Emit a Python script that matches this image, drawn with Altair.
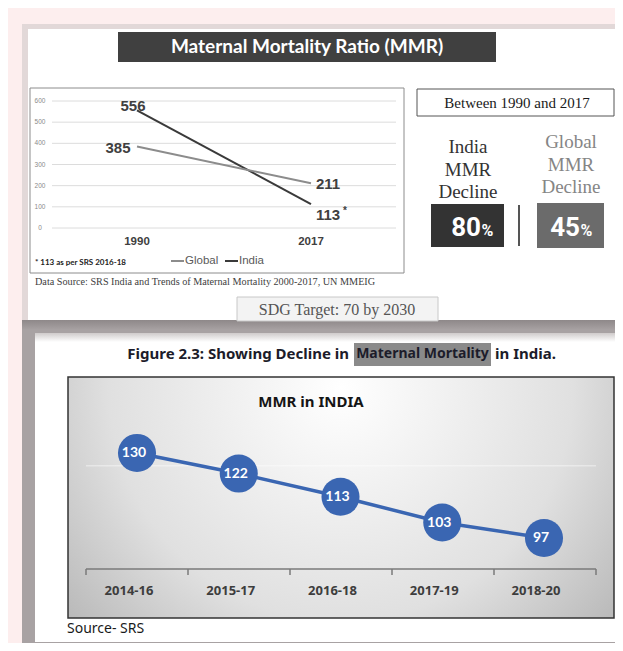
import altair as alt
import pandas as pd

# ---------------- data ----------------
years = ["1990", "2017"]
india_mmr = [556, 113]
global_mmr = [385, 211]
top_ticks = [0, 100, 200, 300, 400, 500, 600]
decline_region = ["India", "Global"]
decline_pct = [80, 45]
periods = ["2014-16", "2015-17", "2016-18", "2017-19", "2018-20"]
india_srs = [130, 122, 113, 103, 97]
bottom_grid = [125]

O = 8  # page margin offset
ONE = pd.DataFrame({"k": [0]})

SERIF = "Liberation Serif"
ARIAL = "Liberation Sans"
CAL = "Lato"
TAH = "Noto Sans"
NARROW = "Roboto"


def box(x1, y1, x2, y2, **kw):
    return alt.Chart(ONE).mark_rect(**kw).encode(
        x=alt.value(x1 - O), x2=alt.value(x2 - O),
        y=alt.value(y1 - O), y2=alt.value(y2 - O))


def hline(x1, x2, y, **kw):
    return alt.Chart(ONE).mark_rule(**kw).encode(
        x=alt.value(x1 - O), x2=alt.value(x2 - O), y=alt.value(y - O))


def vline(x, y1, y2, **kw):
    return alt.Chart(ONE).mark_rule(**kw).encode(
        x=alt.value(x - O), y=alt.value(y1 - O), y2=alt.value(y2 - O))


def label(s, x, y, **kw):
    return alt.Chart(pd.DataFrame({"t": [s]})).mark_text(**kw).encode(
        x=alt.value(x - O), y=alt.value(y - O), text="t:N")


layers = []

# ---------------- backgrounds ----------------
layers.append(box(0, 0, 640, 660, fill="#fdeeee"))
layers.append(box(22, 24, 640, 321, fill="#e2d8d8"))
layers.append(box(28, 29, 640, 321, fill="#ffffff"))
layers.append(box(22, 320, 640, 647, fill="#a8a2a3"))
layers.append(box(22, 320, 640, 330, fill=alt.LinearGradient(
    gradient="linear", x1=0, y1=0, x2=0, y2=1,
    stops=[alt.GradientStop(offset=0, color="#8e8889"),
           alt.GradientStop(offset=1, color="#a8a2a3")])))
layers.append(box(35, 334, 640, 642, fill="#ffffff"))
layers.append(box(35, 333, 640, 342, fill=alt.LinearGradient(
    gradient="linear", x1=0, y1=0, x2=0, y2=1,
    stops=[alt.GradientStop(offset=0, color="#cfcbcb"),
           alt.GradientStop(offset=1, color="#ffffff")])))

# ---------------- top panel ----------------
layers.append(box(118, 32, 496, 62, fill="#404040"))
layers.append(label("Maternal Mortality Ratio (MMR)", 307, 47, font=CAL, fontSize=19,
                    fontWeight="bold", color="#ffffff", align="center", baseline="middle"))
layers.append(box(30, 88, 404, 273, fill="#ffffff", stroke="#8c8c8c", strokeWidth=1))

xs_top = alt.Scale(type="point", domain=years, range=[137 - O, 311 - O], padding=0)
ys_top = alt.Scale(domain=[0, 600], range=[228 - O, 101 - O], nice=False, zero=False)

tick_df = pd.DataFrame({"v": top_ticks})
layers.append(alt.Chart(tick_df).mark_rule(color="#dcdcdc", strokeWidth=1).encode(
    y=alt.Y("v:Q", scale=ys_top, axis=None),
    x=alt.value(52 - O), x2=alt.value(396 - O)))
layers.append(alt.Chart(tick_df).mark_text(font=ARIAL, fontSize=6.5, color="#8a8a8a",
                                           align="center", baseline="middle").encode(
    y=alt.Y("v:Q", scale=ys_top, axis=None),
    x=alt.value(40 - O), text="v:Q"))

top_df = pd.DataFrame({
    "year": years * 2,
    "series": ["India"] * len(years) + ["Global"] * len(years),
    "mmr": india_mmr + global_mmr,
})

layers.append(alt.Chart(top_df).mark_line(strokeWidth=2).encode(
    x=alt.X("year:O", scale=xs_top, axis=None),
    y=alt.Y("mmr:Q", scale=ys_top, axis=None),
    color=alt.Color("series:N", scale=alt.Scale(domain=["Global", "India"],
                                                range=["#8c8c8c", "#3a3a3a"]), legend=None)))


def top_lab(series, year, dx, dy):
    return alt.Chart(top_df).transform_filter(
        f"datum.series == '{series}' && datum.year == '{year}'"
    ).mark_text(font=ARIAL, fontSize=15, fontWeight="bold", color="#404040",
                align="center", baseline="middle", dx=dx, dy=dy).encode(
        x=alt.X("year:O", scale=xs_top, axis=None),
        y=alt.Y("mmr:Q", scale=ys_top, axis=None),
        text="mmr:Q")


layers.append(top_lab("India", "1990", -4, -4))
layers.append(top_lab("Global", "1990", -19, 1.5))
layers.append(top_lab("Global", "2017", 17, 1))
layers.append(top_lab("India", "2017", 17, 11))
layers.append(label("*", 345, 211, font=ARIAL, fontSize=10, fontWeight="bold",
                    color="#404040", align="center", baseline="middle"))

layers.append(alt.Chart(pd.DataFrame({"year": years})).mark_text(
    font=ARIAL, fontSize=11.5, fontWeight="bold", color="#404040",
    align="center", baseline="middle").encode(
    x=alt.X("year:O", scale=xs_top, axis=None),
    y=alt.value(242 - O), text="year:N"))

# legend + footnote
layers.append(hline(171, 184, 261, color="#8c8c8c", strokeWidth=2))
layers.append(label("Global", 185, 261, font=ARIAL, fontSize=11.5, color="#595959",
                    align="left", baseline="middle"))
layers.append(hline(225, 238, 261, color="#3a3a3a", strokeWidth=2))
layers.append(label("India", 239, 261, font=ARIAL, fontSize=11.5, color="#595959",
                    align="left", baseline="middle"))
layers.append(label("* 113 as per SRS 2016-18", 35, 263, font=CAL, fontSize=8,
                    fontWeight="bold", color="#222222", align="left", baseline="middle"))
layers.append(label("Data Source: SRS India and Trends of Maternal Mortality 2000-2017, UN MMEIG",
                    35, 282, font=SERIF, fontSize=10.2, color="#404040",
                    align="left", baseline="middle"))

# right panel
layers.append(box(417, 89, 614, 116, fill="#ffffff", stroke="#555555", strokeWidth=1))
layers.append(label("Between 1990 and 2017", 517, 103, font=SERIF, fontSize=15,
                    color="#1a1a1a", align="center", baseline="middle"))
for i, w in enumerate(["India", "MMR", "Decline"]):
    layers.append(label(w, 468, 147 + i * 22.5, font=SERIF, fontSize=19, color="#333333",
                        align="center", baseline="middle"))
for i, w in enumerate(["Global", "MMR", "Decline"]):
    layers.append(label(w, 571, 142 + i * 22.5, font=SERIF, fontSize=19, color="#858585",
                        align="center", baseline="middle"))
layers.append(box(431, 204, 504, 247, fill="#333333"))
layers.append(box(537, 203, 604, 248, fill="#6b6b6b"))
layers.append(vline(519, 205, 246, color="#555555", strokeWidth=2))

dec_df = pd.DataFrame({"region": decline_region, "pct": decline_pct})
xs_dec = alt.Scale(type="point", domain=decline_region, range=[473 - O, 572 - O], padding=0)
layers.append(alt.Chart(dec_df).mark_text(
    font=NARROW, fontSize=26, fontWeight="bold", color="#ffffff",
    align="right", baseline="alphabetic", dx=8).encode(
    x=alt.X("region:N", scale=xs_dec, axis=None),
    y=alt.value(236 - O), text="pct:Q"))
layers.append(alt.Chart(dec_df).mark_text(
    font=NARROW, fontSize=16, fontWeight="bold", color="#ffffff",
    align="left", baseline="alphabetic", dx=8.5).encode(
    x=alt.X("region:N", scale=xs_dec, axis=None),
    y=alt.value(236 - O), text=alt.value("%")))

# SDG box
layers.append(box(237, 297, 438, 321, fill="#f3f3f3", stroke="#c8c8c8", strokeWidth=1))
layers.append(label("SDG Target: 70 by 2030", 337, 310, font=SERIF, fontSize=16,
                    color="#555555", align="center", baseline="middle"))

# ---------------- bottom panel ----------------
layers.append(box(354, 343, 491, 366, fill="#8a8a8a"))
layers.append(label("Figure 2.3: Showing Decline in", 349, 354, font=TAH, fontSize=15,
                    fontWeight="bold", color="#1c1c2a", align="right", baseline="middle"))
layers.append(label("Maternal Mortality", 422.5, 354, font=TAH, fontSize=14,
                    fontWeight="bold", color="#1c1c2a", align="center", baseline="middle"))
layers.append(label("in India.", 495, 354, font=TAH, fontSize=15,
                    fontWeight="bold", color="#1c1c2a", align="left", baseline="middle"))

grad = alt.RadialGradient(
    gradient="radial", x1=0.5, y1=0.3, r1=0, x2=0.5, y2=0.3, r2=0.85,
    stops=[alt.GradientStop(offset=0, color="#ffffff"),
           alt.GradientStop(offset=0.5, color="#e0e0e0"),
           alt.GradientStop(offset=1, color="#989898")])
layers.append(box(68, 377, 614, 618, fill=grad, stroke="#333333", strokeWidth=1.5))
layers.append(label("MMR in INDIA", 311, 402, font=TAH, fontSize=15, fontWeight="bold",
                    color="#151515", align="center", baseline="middle"))

bot_df = pd.DataFrame({"period": periods, "mmr": india_srs})
xs_pt = alt.Scale(type="point", domain=periods, range=[137 - O, 544 - O], padding=0)
xs_band = alt.Scale(type="band", domain=periods, range=[86 - O, 596 - O],
                    paddingInner=0, paddingOuter=0)
ys_bot = alt.Scale(domain=[90, 140], range=[556 - O, 427.2 - O], nice=False, zero=False)

layers.append(alt.Chart(pd.DataFrame({"g": bottom_grid})).mark_rule(
    color="#ffffff", strokeWidth=1, opacity=0.6).encode(
    y=alt.Y("g:Q", scale=ys_bot, axis=None),
    x=alt.value(86 - O), x2=alt.value(596 - O)))

layers.append(hline(86, 596, 569, color="#7a7a7a", strokeWidth=1.5))
layers.append(alt.Chart(bot_df).mark_rule(color="#7a7a7a", strokeWidth=1.5).encode(
    x=alt.X("period:N", scale=xs_band, bandPosition=0, axis=None),
    y=alt.value(569 - O), y2=alt.value(575 - O)))
layers.append(vline(596, 569, 575, color="#7a7a7a", strokeWidth=1.5))

layers.append(alt.Chart(bot_df).mark_line(color="#3a66b2", strokeWidth=3.5).encode(
    x=alt.X("period:N", scale=xs_pt, axis=None),
    y=alt.Y("mmr:Q", scale=ys_bot, axis=None)))
layers.append(alt.Chart(bot_df).mark_circle(size=1450, color="#3a66b2", opacity=1).encode(
    x=alt.X("period:N", scale=xs_pt, axis=None),
    y=alt.Y("mmr:Q", scale=ys_bot, axis=None)))
layers.append(alt.Chart(bot_df).mark_text(
    font=CAL, fontSize=14, fontWeight="bold", color="#ffffff",
    align="center", baseline="middle", dx=-3).encode(
    x=alt.X("period:N", scale=xs_pt, axis=None),
    y=alt.Y("mmr:Q", scale=ys_bot, axis=None), text="mmr:Q"))

layers.append(alt.Chart(bot_df).mark_text(
    font=TAH, fontSize=13, fontWeight="bold", color="#3d3d3d",
    align="center", baseline="middle", dx=-8).encode(
    x=alt.X("period:N", scale=xs_pt, axis=None),
    y=alt.value(591 - O), text="period:N"))

layers.append(label("Source- SRS", 67, 629, font=TAH, fontSize=14, color="#1a1a1a",
                    align="left", baseline="middle"))

chart = alt.layer(*layers).resolve_scale(
    x="independent", y="independent", color="independent"
).properties(
    width=607, height=635, padding=0,
    autosize=alt.AutoSizeParams(type="none"),
    background="#ffffff",
).configure_view(stroke=None)

chart.save("out.html", embed_options={"renderer": "svg", "actions": False})
